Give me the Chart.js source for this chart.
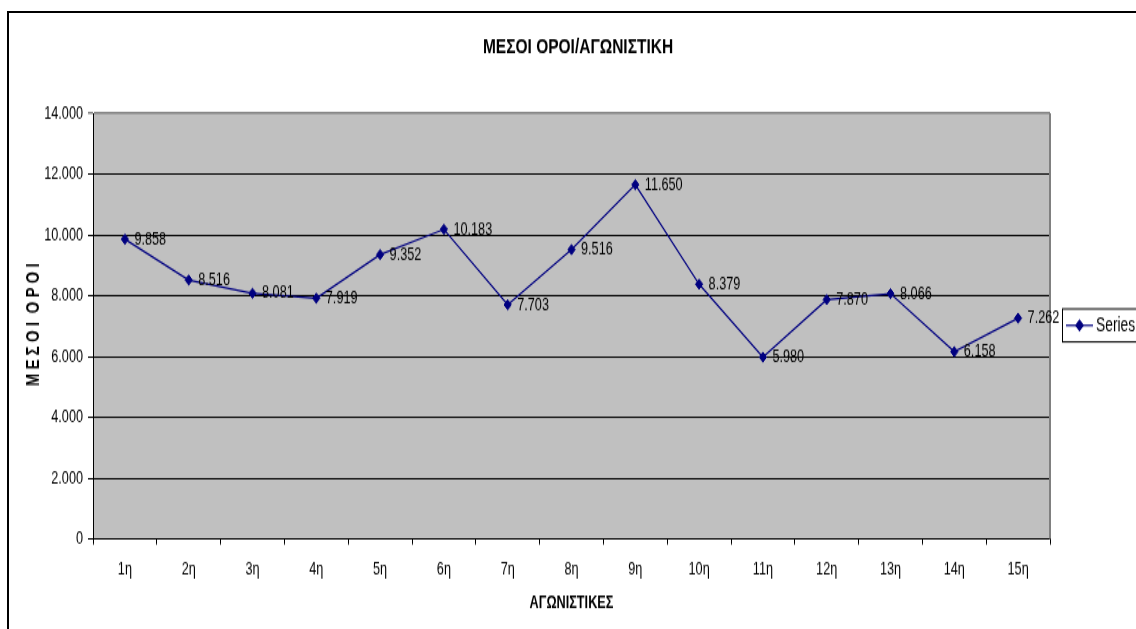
<!DOCTYPE html>
<html>
<head>
<meta charset="utf-8">
<title>ΜΕΣΟΙ ΟΡΟΙ/ΑΓΩΝΙΣΤΙΚΗ</title>
<script src="https://cdn.jsdelivr.net/npm/chart.js@4.4.1/dist/chart.umd.min.js"></script>
<style>
    html, body { margin: 0; padding: 0; background: #fff; overflow: hidden; }
    #wrap { position: relative; width: 1136px; height: 629px; overflow: hidden; }
    /* the source picture is stretched vertically, so is this one */
    #chart { position: absolute; left: 0; top: 0; transform: scaleY(1.39778); transform-origin: 0 0; }
    #frame { position: absolute; left: 7px; top: 11px; width: 1200px; height: 700px; border: 2px solid #000; pointer-events: none; }
</style>
</head>
<body>
<div id="wrap">
    <canvas id="chart" width="1136" height="450"></canvas>
    <div id="frame"></div>
</div>
<script>
const chartTitle = "ΜΕΣΟΙ ΟΡΟΙ/ΑΓΩΝΙΣΤΙΚΗ";
const xTitle = "ΑΓΩΝΙΣΤΙΚΕΣ";
const yTitle = "Μ Ε Σ Ο Ι  Ο Ρ Ο Ι";
const seriesName = "Series1";

const categories = ["1η", "2η", "3η", "4η", "5η", "6η", "7η", "8η", "9η", "10η", "11η", "12η", "13η", "14η", "15η"];
const meanValues = [9858, 8516, 8081, 7919, 9352, 10183, 7703, 9516, 11650, 8379, 5980, 7870, 8066, 6158, 7262];
const yTicks = [0, 2000, 4000, 6000, 8000, 10000, 12000, 14000];

const FONT = "'Liberation Sans', Arial, sans-serif";

// 9858 -> "9.858"
const fmt = (v) => String(v).replace(/\B(?=(\d{3})+(?!\d))/g, ".");

const excelLook = {
    id: "excelLook",
    beforeDraw(chart) {
        const { ctx, chartArea: a } = chart;
        ctx.save();
        ctx.fillStyle = "#c0c0c0";
        ctx.fillRect(a.left, a.top, a.right - a.left, a.bottom - a.top);
        ctx.restore();
    },
    beforeDatasetsDraw(chart) {
        const { ctx, chartArea: a } = chart;
        ctx.save();
        ctx.strokeStyle = "#808080";
        ctx.lineWidth = 2;
        ctx.beginPath();
        ctx.moveTo(a.right, a.top);
        ctx.lineTo(a.right, a.bottom);
        ctx.stroke();
        ctx.restore();
    },
    afterDatasetsDraw(chart) {
        const { ctx } = chart;
        const meta = chart.getDatasetMeta(0);
        const data = chart.data.datasets[0].data;
        ctx.save();
        ctx.font = "12.7px " + FONT;
        ctx.fillStyle = "#000";
        ctx.textAlign = "left";
        ctx.textBaseline = "middle";
        meta.data.forEach((pt, i) => {
            ctx.fillText(fmt(data[i]), pt.x + 9.5, pt.y);
        });
        ctx.restore();
    },
    afterDraw(chart) {
        const { ctx, chartArea: a } = chart;
        const ds = chart.data.datasets[0];
        ctx.save();
        // title
        ctx.font = "bold 15.5px " + FONT;
        ctx.fillStyle = "#000";
        ctx.textAlign = "center";
        ctx.textBaseline = "middle";
        ctx.fillText(chartTitle, 578, 33.6);

        // y axis title, rotated; glyphs are wider than the rest in the source
        ctx.save();
        ctx.translate(33.5, (a.top + a.bottom) / 2 - 1);
        ctx.rotate(-Math.PI / 2);
        ctx.scale(0.9, 1.6);
        ctx.font = "bold 12px " + FONT;
        ctx.fillText(yTitle, 0, 0);
        ctx.restore();

        // legend box
        ctx.strokeStyle = "#000";
        ctx.lineWidth = 1;
        ctx.strokeRect(1062.5, 221, 120, 23.6);
        ctx.strokeStyle = ds.borderColor;
        ctx.lineWidth = ds.borderWidth;
        ctx.beginPath();
        ctx.moveTo(1066, 232.8);
        ctx.lineTo(1093, 232.8);
        ctx.stroke();
        Chart.helpers.drawPoint(ctx, {
            pointStyle: ds.pointStyle,
            radius: ds.pointRadius,
            borderWidth: 1
        }, 1079.5, 232.8);
        ctx.fillStyle = ds.pointBackgroundColor;
        ctx.fill();
        ctx.fillStyle = "#000";
        ctx.font = "13.8px " + FONT;
        ctx.textAlign = "left";
        ctx.fillText(seriesName, 1096, 232.8);
        ctx.restore();
    }
};

new Chart(document.getElementById("chart").getContext("2d"), {
    type: "line",
    data: {
        labels: categories,
        datasets: [{
            label: seriesName,
            data: meanValues,
            borderColor: "#000080",
            borderWidth: 1.2,
            backgroundColor: "#000080",
            pointBackgroundColor: "#000080",
            pointBorderColor: "#000080",
            pointStyle: "rectRot",
            pointRadius: 3.6,
            pointBorderWidth: 1,
            tension: 0,
            fill: false
        }]
    },
    options: {
        responsive: false,
        animation: false,
        devicePixelRatio: 1,
        layout: { padding: { top: 81, right: 86, left: 0, bottom: 0 } },
        plugins: {
            legend: { display: false },
            title: { display: false },
            tooltip: { enabled: false }
        },
        scales: {
            x: {
                type: "category",
                offset: true,
                grid: {
                    display: true,
                    offset: true,
                    drawOnChartArea: false,
                    drawTicks: true,
                    tickLength: 4,
                    color: "#000"
                },
                border: { display: true, color: "#000", width: 1 },
                ticks: {
                    color: "#000",
                    font: { family: FONT, size: 12.7 },
                    padding: 10.6,
                    maxRotation: 0,
                    autoSkip: false
                },
                title: {
                    display: true,
                    text: xTitle,
                    color: "#000",
                    font: { family: FONT, size: 12.7, weight: "bold" },
                    padding: { top: 0, bottom: 11 }
                },
                afterFit: (scale) => { scale.height = 64.4; }
            },
            y: {
                min: 0,
                max: 14000,
                afterBuildTicks: (scale) => {
                    scale.ticks = yTicks.map(v => ({ value: v }));
                },
                grid: {
                    color: (c) => (c.tick && c.tick.value === 14000 ? "#808080" : "#000"),
                    lineWidth: (c) => (c.tick && c.tick.value === 14000 ? 1.5 : 1),
                    tickLength: 5,
                    drawTicks: true
                },
                border: { display: true, color: "#000", width: 1 },
                ticks: {
                    color: "#000",
                    font: { family: FONT, size: 12.7 },
                    padding: 5,
                    callback: (v) => fmt(v)
                },
                afterFit: (scale) => { scale.width = 93; }
            }
        }
    },
    plugins: [excelLook]
});
</script>
</body>
</html>
